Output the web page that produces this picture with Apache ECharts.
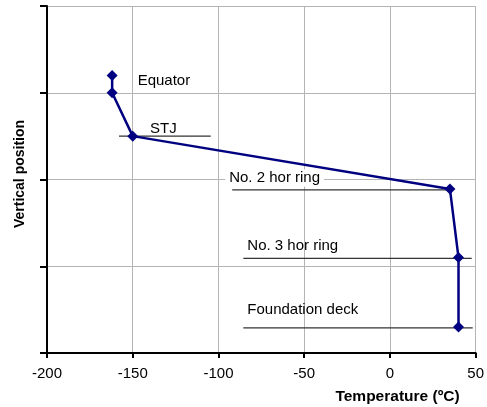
<!DOCTYPE html>
<html>
<head>
<meta charset="utf-8">
<script src="https://cdn.jsdelivr.net/npm/echarts@6/dist/echarts.min.js"></script>
<style>html,body{margin:0;padding:0;background:#fff}#c{width:487px;height:407px}</style>
</head>
<body>
<div id="c"></div>
<script>
// ---- data ----
const xTickValues = [-200, -150, -100, -50, 0, 50];
const yLevels = [0, 1, 2, 3, 4];
const temps = [-162, -162, -150, 35, 40, 40];
const heights = [3.2, 3.0, 2.5, 1.89, 1.1, 0.3];
const annotationNames = ['STJ', 'No. 2 hor ring', 'No. 3 hor ring', 'Foundation deck'];
const leaderStart = [-158, -92, -85.5, -85.5];
const leaderEnd = [-104.5, 35, 47.7, 48.3];
const leaderLevel = [2.5, 1.88, 1.09, 0.29];
const topLabel = 'Equator';

// ---- styles (not data) ----
const labelOffsets = [[30.5, -7], [-7.5, -12], [3.5, -12.3], [3.5, -18.4]];
const labelBg = [null, '#ffffff', null, null];
const FONT = "'Liberation Sans', Arial, sans-serif";

const chart = echarts.init(document.getElementById('c'), null, {renderer: 'canvas'});

const leaderSeries = annotationNames.map((name, i) => ({
  type: 'line',
  name: name,
  data: [
    {value: [leaderStart[i], leaderLevel[i]], label: {
      show: true, formatter: name, position: 'right', distance: 0,
      offset: labelOffsets[i], color: '#000', fontSize: 15, fontFamily: FONT,
      backgroundColor: labelBg[i] || 'transparent',
      padding: labelBg[i] ? [1, 4] : 0
    }},
    [leaderEnd[i], leaderLevel[i]]
  ],
  symbol: 'circle', symbolSize: 1, showSymbol: true,
  itemStyle: {color: 'rgba(0,0,0,0)', borderWidth: 0},
  lineStyle: {color: '#333333', width: 1.2},
  silent: true, animation: false, z: 1
}));

const mainData = temps.map((t, i) => i === 0 ? {
  value: [t, heights[i]],
  label: {show: true, formatter: topLabel, position: 'right', distance: 0,
    offset: [20, 5], color: '#000', fontSize: 15, fontFamily: FONT}
} : [t, heights[i]]);

chart.setOption({
  animation: false,
  backgroundColor: '#ffffff',
  grid: {left: 47, right: 8, top: 6, bottom: 54, containLabel: false},
  xAxis: {
    type: 'value',
    min: xTickValues[0], max: xTickValues[xTickValues.length - 1],
    interval: xTickValues[1] - xTickValues[0],
    name: 'Temperature (ºC)',
    nameLocation: 'end', nameGap: -16,
    nameTextStyle: {align: 'right', verticalAlign: 'top', padding: [36, 0, 0, 0],
      fontWeight: 'bold', fontSize: 15.5, fontFamily: FONT, color: '#000'},
    axisLine: {show: true, onZero: false, lineStyle: {color: '#000', width: 2}},
    axisTick: {show: true, inside: false, length: 5, lineStyle: {color: '#000', width: 2}},
    axisLabel: {margin: 13, fontSize: 15, fontFamily: FONT, color: '#000'},
    splitLine: {show: true, showMinLine: false, lineStyle: {color: '#b4b4b4', width: 1}}
  },
  yAxis: {
    type: 'value',
    min: yLevels[0], max: yLevels[yLevels.length - 1],
    interval: yLevels[1] - yLevels[0],
    name: 'Vertical position',
    nameLocation: 'middle', nameGap: 20, nameRotate: 90,
    nameTextStyle: {fontWeight: 'bold', fontSize: 14, fontFamily: FONT, color: '#000',
      padding: [0, 0, 0, 11]},
    axisLine: {show: true, onZero: false, lineStyle: {color: '#000', width: 2}},
    axisTick: {show: true, inside: false, length: 7, lineStyle: {color: '#000', width: 2}},
    axisLabel: {show: false},
    splitLine: {show: true, showMinLine: false, lineStyle: {color: '#b4b4b4', width: 1}}
  },
  series: leaderSeries.concat([{
    type: 'line',
    name: 'Temperature',
    data: mainData,
    symbol: 'diamond', symbolSize: 11,
    itemStyle: {color: '#000080'},
    lineStyle: {color: '#000080', width: 2.5},
    z: 3
  }])
});
</script>
</body>
</html>
